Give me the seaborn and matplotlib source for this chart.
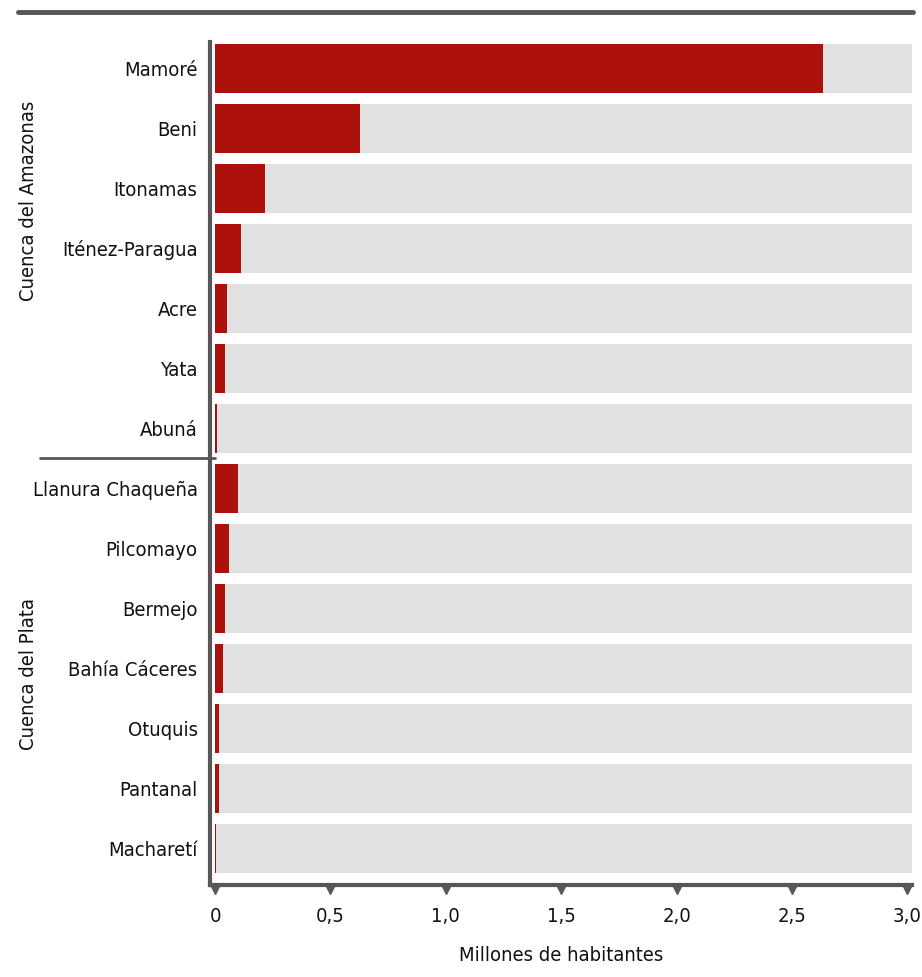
import pandas as pd
import matplotlib.pyplot as plt
import seaborn as sns

# Datos: poblacion por subcuenca (millones de habitantes)
cuencas = ['Mamoré', 'Beni', 'Itonamas', 'Iténez-Paragua', 'Acre', 'Yata', 'Abuná',
           'Llanura Chaqueña', 'Pilcomayo', 'Bermejo', 'Bahía Cáceres', 'Otuquis',
           'Pantanal', 'Macharetí']
poblacion = [2.635, 0.629, 0.217, 0.113, 0.052, 0.043, 0.009,
             0.100, 0.061, 0.043, 0.035, 0.017, 0.017, 0.006]
grupos = ['Cuenca del Amazonas'] * 7 + ['Cuenca del Plata'] * 7
xticks = [0, 0.5, 1.0, 1.5, 2.0, 2.5, 3.0]
xticklabels = ['0', '0,5', '1,0', '1,5', '2,0', '2,5', '3,0']
xmax = 3.02

RED = '#ad110b'
BG = '#e1e1e1'
LINE = '#575757'

df = pd.DataFrame({'cuenca': cuencas, 'poblacion': poblacion, 'grupo': grupos})
df['fondo'] = xmax

sns.set_style('white')
plt.rcParams['font.family'] = ['DejaVu Sans']
plt.rcParams['font.stretch'] = 'condensed'

fig = plt.figure(figsize=(9.22, 9.77), dpi=100)
ax = fig.add_axes([0.2278, 0.0942, 0.7612, 0.8628])

# barras de fondo y barras de datos
sns.barplot(data=df, x='fondo', y='cuenca', orient='h', color=BG, width=0.82,
            saturation=1, linewidth=0, ax=ax)
sns.barplot(data=df, x='poblacion', y='cuenca', orient='h', color=RED, width=0.82,
            saturation=1, linewidth=0, ax=ax)

ax.set_xlim(-0.0217, xmax)
ax.set_ylim(13.61, -0.44)

for s in ['top', 'right']:
    ax.spines[s].set_visible(False)
for s in ['left', 'bottom']:
    ax.spines[s].set_color(LINE)
    ax.spines[s].set_linewidth(3)

ax.set_xticks(xticks)
ax.set_xticklabels(xticklabels, fontsize=14.5, color='#111111')
ax.tick_params(axis='x', length=0, pad=16)
ax.tick_params(axis='y', length=0, pad=9, labelsize=14.5, labelcolor='#111111')
ax.set_ylabel('')
ax.set_xlabel('Millones de habitantes', fontsize=14.5, color='#111111', labelpad=14)

# marcas triangulares en el eje x
ax.plot(xticks, [-0.005] * len(xticks), linestyle='none', marker='v', markersize=7,
        color=LINE, transform=ax.get_xaxis_transform(), clip_on=False)

# separador entre cuencas
sep = 6.5
ax.plot([-0.242, 0.007], [sep, sep], color=LINE, linewidth=2,
        transform=ax.get_yaxis_transform(), clip_on=False)

# etiquetas de grupo
grp = df.groupby('grupo', sort=False).size()
ax.text(-0.259, 2.2, grp.index[0], rotation=90, ha='center', va='center',
        fontsize=14.5, color='#111111', transform=ax.get_yaxis_transform())
ax.text(-0.259, 10.1, grp.index[1], rotation=90, ha='center', va='center',
        fontsize=14.5, color='#111111', transform=ax.get_yaxis_transform())

# linea superior
fig.add_artist(plt.Line2D([0.02, 0.99], [0.988, 0.988], color=LINE, linewidth=3.5))

fig.savefig('out.png', dpi=100)
